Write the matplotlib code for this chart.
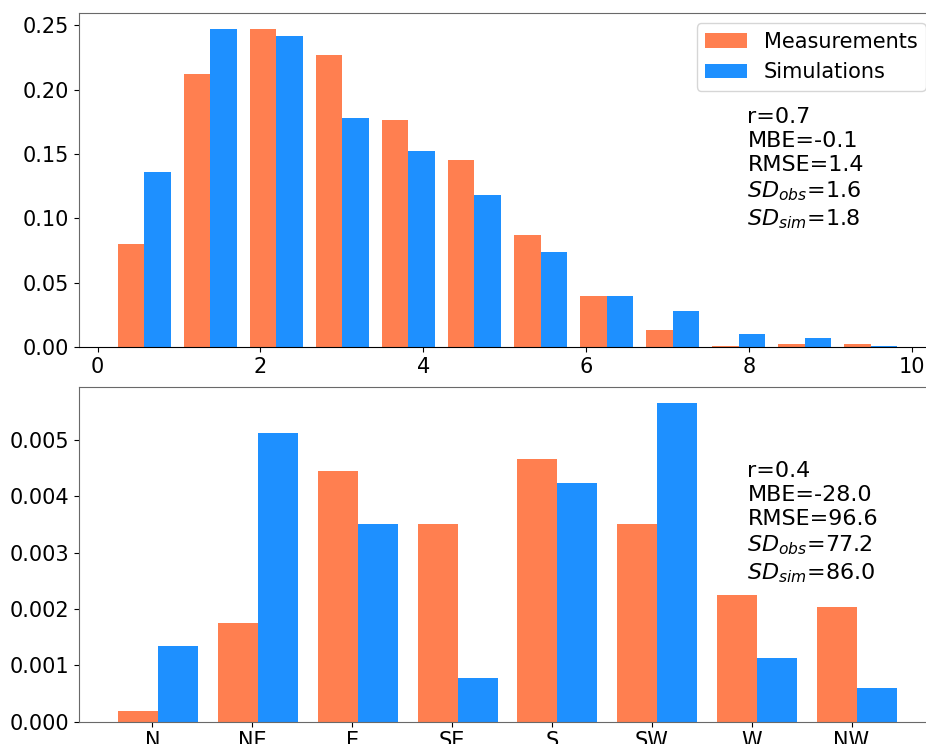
"""Wind speed and direction distributions: measurements vs simulations."""

import matplotlib

matplotlib.use("Agg")

import matplotlib.pyplot as plt
import numpy as np

# wind speed histogram (density), 12 bins
speed_edges = [0.17, 0.981, 1.792, 2.603, 3.414, 4.225, 5.036, 5.847, 6.658, 7.469, 8.280, 9.091, 9.902]
speed_meas = [0.0802, 0.2121, 0.2471, 0.2269, 0.1765, 0.1454, 0.0872, 0.0398, 0.0134, 0.0010, 0.0026, 0.0026]
speed_sim = [0.1361, 0.2471, 0.2417, 0.1780, 0.1524, 0.1182, 0.0740, 0.0398, 0.0282, 0.0103, 0.0072, 0.0010]
speed_stats = "r=0.7\nMBE=-0.1\nRMSE=1.4\n$SD_{obs}$=1.6\n$SD_{sim}$=1.8"

# wind direction histogram (density), 8 sectors of 45 deg
dir_edges = [-20, 25, 70, 115, 160, 205, 250, 295, 340]
dir_ticks = [0, 45, 90, 135, 180, 225, 270, 315]
dir_labels = ["N", "NE", "E", "SE", "S", "SW", "W", "NW"]
dir_meas = [0.00019, 0.00175, 0.004449, 0.003508, 0.004662, 0.003508, 0.002248, 0.002035]
dir_sim = [0.00134, 0.005123, 0.003508, 0.000775, 0.004236, 0.005656, 0.00113, 0.000598]
dir_stats = "r=0.4\nMBE=-28.0\nRMSE=96.6\n$SD_{obs}$=77.2\n$SD_{sim}$=86.0"

COLORS = ["coral", "dodgerblue"]
LABELS = ["Measurements", "Simulations"]


def _centers(edges):
    e = np.asarray(edges, dtype=float)
    return (e[:-1] + e[1:]) / 2


def _style(ax):
    for side in ["left", "top", "right", "bottom"]:
        ax.spines[side].set_color("dimgray")
    ax.tick_params(labelsize=15)


fig = plt.figure(figsize=(9.26, 7.44), dpi=100)
ax1 = fig.add_axes([0.0853, 0.5336, 0.9255, 0.4489])
ax2 = fig.add_axes([0.0853, 0.0300, 0.9255, 0.4499])

c = _centers(speed_edges)
ax1.hist([c, c], bins=speed_edges, weights=[speed_meas, speed_sim], color=COLORS, label=LABELS)
_style(ax1)
ax1.spines["bottom"].set_color("black")
ax1.legend(fontsize=15, loc="upper right")
ax1.text(0.78, 0.72, speed_stats, transform=ax1.transAxes, fontsize=16, va="top", ha="left",
         linespacing=1.25)

c = _centers(dir_edges)
ax2.hist([c, c], bins=dir_edges, weights=[dir_meas, dir_sim], color=COLORS, label=LABELS)
_style(ax2)
ax2.set_xticks(dir_ticks)
ax2.set_xticklabels(dir_labels)
ax2.text(0.78, 0.78, dir_stats, transform=ax2.transAxes, fontsize=16, va="top", ha="left",
         linespacing=1.25)

fig.savefig("out.png", dpi=100)
plt.close(fig)
